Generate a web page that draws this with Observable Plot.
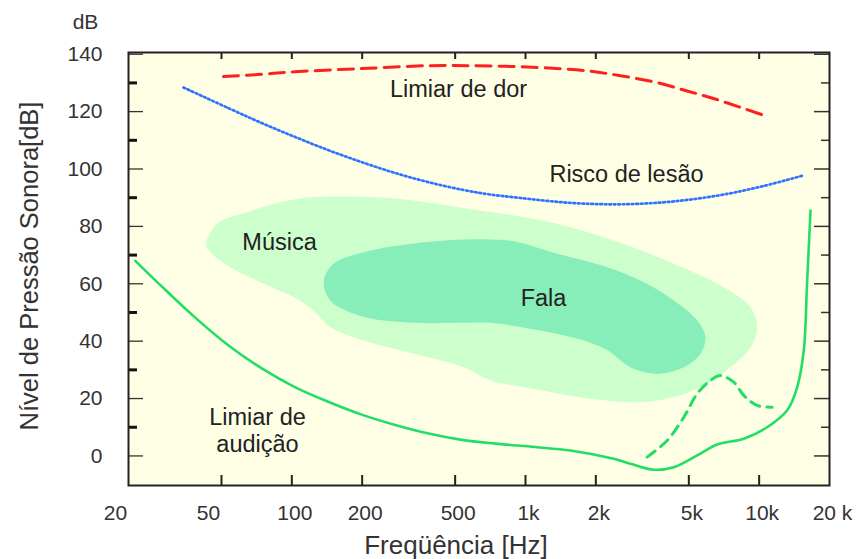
<!DOCTYPE html>
<html>
<head>
<meta charset="utf-8">
<script src="https://cdn.jsdelivr.net/npm/d3@7"></script>
<script src="https://cdn.jsdelivr.net/npm/@observablehq/plot@0.6"></script>
<style>
  html, body { margin: 0; padding: 0; background: #ffffff; }
  #chart svg { display: block; }
</style>
</head>
<body>
<div id="chart"></div>
<script>
// ---- Data (frequency in Hz, level in dB) ----
const painFreq = [51, 74, 103, 199, 385, 582, 1122, 1837, 2550, 3530, 4920, 6830, 10470];
const painDb   = [132.2, 133.0, 133.9, 135.0, 136.0, 136.0, 135.4, 134.2, 132.5, 130.4, 127.2, 123.8, 118.7];

const riskFreq = [34.4, 53.6, 74.4, 103, 144, 199, 277, 385, 534, 694, 952, 1558, 2550, 4174, 6830, 10470, 15520];
const riskDb   = [128.4, 121.2, 116.0, 111.2, 106.5, 102.4, 98.6, 95.4, 92.8, 91.2, 89.9, 88.2, 87.7, 88.6, 90.9, 94.1, 97.8];

const hearFreq = [21.4, 27.8, 38.6, 53.6, 74.4, 103, 144, 199, 277, 385, 534, 742, 1100, 1558, 2388, 2813, 3540, 4311, 5430, 6613, 8596, 10820, 13180, 14550, 15520, 16050, 16590];
const hearDb   = [68.0, 59.0, 48.2, 38.5, 30.5, 24.0, 18.8, 14.4, 10.8, 7.8, 5.6, 4.3, 3.1, 1.9, -1.0, -2.7, -4.8, -3.9, 0.2, 4.0, 6.0, 10.0, 15.9, 24.0, 36.8, 61.1, 85.5];

const lossFreq = [3317, 4041, 4760, 5430, 6190, 6830, 7787, 8596, 9807, 11370];
const lossDb   = [-0.4, 5.4, 13.5, 21.7, 26.3, 28.0, 25.7, 21.1, 17.6, 17.0];

const musicFreq = [43.0, 47.9, 64.4, 89.4, 124, 173, 282, 462, 708, 891, 1367, 2634, 4311, 7056, 9183, 9807, 9183, 7540, 5993, 4311, 3105, 1897, 983, 708, 544, 333, 203, 146, 124, 105, 75.9, 54.6, 46];
const musicDb   = [73.5, 80.9, 84.9, 88.4, 90.2, 90.4, 89.6, 87.3, 85.0, 83.8, 80.9, 73.9, 67.0, 58.8, 51.8, 44.9, 37.9, 30.9, 25.2, 20.5, 18.7, 19.9, 24.0, 26.3, 30.9, 35.6, 40.2, 44.9, 50.7, 54.8, 60.0, 65.8, 70.0];

const speechFreq = [137, 151, 203, 333, 544, 708, 891, 1367, 2237, 3105, 4311, 5430, 5892, 5608, 4760, 3660, 2813, 2237, 1776, 1159, 708, 544, 333, 203, 146];
const speechDb   = [61.1, 67.0, 71.0, 74.0, 75.4, 75.4, 74.8, 70.5, 65.8, 61.1, 54.2, 47.2, 41.4, 35.6, 30.9, 28.6, 30.9, 36.8, 40.2, 43.7, 46.4, 46.4, 46.4, 48.5, 54.2];

const labelText = ["Limiar de dor", "Risco de lesão", "Música", "Fala", "Limiar de\naudição"];
const labelFreq = [517, 2705, 88.6, 1194, 71.3];
const labelDb   = [128.0, 98.4, 74.7, 55.2, 9.2];

const xTickValues = [20, 50, 100, 200, 500, 1000, 2000, 5000, 10000, 20000];
const xTickLabels = ["20", "50", "100", "200", "500", "1k", "2k", "5k", "10k", "20 k"];
const xInnerTicks = [50, 100, 200, 500, 1000, 2000, 5000, 10000];
const yMajorTicks = [0, 20, 40, 60, 80, 100, 120, 140];
const yMinorTicks = [10, 30, 50, 70, 90, 110, 130];

const toPoints = (fs, ds) => fs.map((f, i) => ({f, db: ds[i]}));
const xLabelRows = xTickValues.map((v, i) => ({v, t: xTickLabels[i]}));

const W = 859, H = 559;
const mL = 128, mR = 30, mT = 52, mB = 74;
const plotW = W - mL - mR, plotH = H - mT - mB;

const chart = Plot.plot({
  width: W, height: H,
  marginLeft: mL, marginRight: mR, marginTop: mT, marginBottom: mB,
  x: {type: "log", domain: [20, 20000], axis: null},
  y: {domain: [-10.3, 140.6]},
  style: {fontFamily: "'Liberation Sans', Arial, Helvetica, sans-serif", background: "#ffffff", color: "#222"},
  marks: [
    Plot.frame({fill: "#ffffe6", stroke: null}),
    // regions
    Plot.line(toPoints(musicFreq, musicDb), {x: "f", y: "db", fill: "#ccffcc", stroke: null, curve: "catmull-rom-closed"}),
    Plot.line(toPoints(speechFreq, speechDb), {x: "f", y: "db", fill: "#88eeb9", stroke: null, curve: "catmull-rom-closed"}),
    // curves
    Plot.line(toPoints(painFreq, painDb), {x: "f", y: "db", stroke: "#ff1f1f", strokeWidth: 3, strokeDasharray: "15,8", curve: "catmull-rom"}),
    Plot.line(toPoints(riskFreq, riskDb), {x: "f", y: "db", stroke: "#2f72ff", strokeWidth: 2.7, strokeDasharray: "1.7,2.8", curve: "catmull-rom"}),
    Plot.line(toPoints(hearFreq, hearDb), {x: "f", y: "db", stroke: "#22dd66", strokeWidth: 2.6, curve: "catmull-rom"}),
    Plot.line(toPoints(lossFreq, lossDb), {x: "f", y: "db", stroke: "#22dd66", strokeWidth: 3, strokeDasharray: "10,7", curve: "catmull-rom"}),
    // annotations
    Plot.text(labelText.map((t, i) => ({t, f: labelFreq[i], db: labelDb[i]})), {
      x: "f", y: "db", text: "t", fontSize: 23.5, fill: "#222", lineHeight: 1.15
    }),
    // ticks (inside the frame)
    Plot.tickY(yMajorTicks, {y: d => d, insetRight: plotW - 15, stroke: "#333", strokeWidth: 1.3}),
    Plot.tickY(yMinorTicks, {y: d => d, insetRight: plotW - 9, stroke: "#111", strokeWidth: 3}),
    Plot.tickY(yMajorTicks, {y: d => d, insetLeft: plotW - 15, stroke: "#333", strokeWidth: 1.5}),
    Plot.tickY(yMinorTicks, {y: d => d, insetLeft: plotW - 8, stroke: "#333", strokeWidth: 1.5}),
    Plot.tickX(xInnerTicks, {x: d => d, insetTop: plotH - 10, stroke: "#222", strokeWidth: 2}),
    Plot.tickX(xInnerTicks, {x: d => d, insetBottom: plotH - 7, stroke: "#222", strokeWidth: 2}),
    Plot.frame({stroke: "#222", strokeWidth: 2}),
    // axes
    Plot.text(xLabelRows.slice(0, 2), {x: "v", text: "t", frameAnchor: "bottom", textAnchor: "middle", lineAnchor: "middle", dx: -13, dy: 28, fontSize: 21, fill: "#333"}),
    Plot.text(xLabelRows.slice(2), {x: "v", text: "t", frameAnchor: "bottom", textAnchor: "middle", lineAnchor: "middle", dx: 3, dy: 28, fontSize: 21, fill: "#333"}),
    Plot.axisY({ticks: yMajorTicks, tickSize: 0, tickPadding: 26, fontSize: 21, color: "#333", label: null}),
    // titles
    Plot.text(["Freqüência [Hz]"], {frameAnchor: "bottom", textAnchor: "middle", lineAnchor: "middle", dx: -23, dy: 60, fontSize: 26, fill: "#333"}),
    Plot.text(["Nível de Pressão Sonora[dB]"], {frameAnchor: "left", textAnchor: "middle", lineAnchor: "middle", dx: -99, dy: -3, rotate: -90, fontSize: 25.5, fill: "#333"}),
    Plot.text(["dB"], {frameAnchor: "top-left", textAnchor: "middle", lineAnchor: "middle", dx: -43, dy: -30, fontSize: 21, fill: "#333"})
  ]
});
document.getElementById("chart").appendChild(chart);
</script>
</body>
</html>
